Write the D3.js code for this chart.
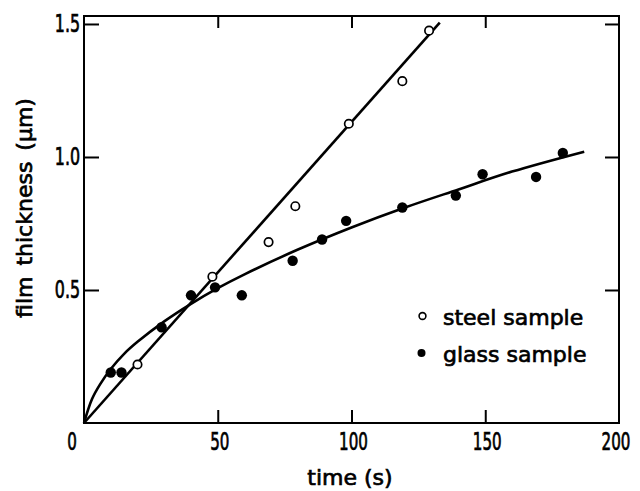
<!DOCTYPE html>
<html><head><meta charset="utf-8">
<script src="https://cdn.jsdelivr.net/npm/d3@7"></script>
<style>
html,body{margin:0;padding:0;background:#fff;}
svg{display:block;}
</style></head>
<body>
<svg id="chart" width="640" height="491"></svg>
<script>
// ---- data ----
const steelTime = [20, 48, 69, 79, 99, 119, 129];
const steelThickness = [0.22, 0.55, 0.68, 0.815, 1.125, 1.285, 1.475];
const glassTime = [10, 14, 29, 40, 49, 59, 78, 89, 98, 119, 139, 149, 169, 179];
const glassThickness = [0.19, 0.19, 0.36, 0.48, 0.51, 0.48, 0.61, 0.69, 0.76, 0.81, 0.855, 0.935, 0.925, 1.015];
// fitted lines as drawn in the picture
const steelFitTime = [0, 133];
const steelFitThickness = [0, 1.505];
const glassFitTime = [0, 3, 6, 10, 15, 20, 30, 40, 50, 60, 80, 100, 120, 140, 160, 187];
const glassFitThickness = [0, 0.09, 0.145, 0.203, 0.26, 0.305, 0.382, 0.448, 0.507, 0.559, 0.652, 0.735, 0.81, 0.878, 0.945, 1.02];
const xTicks = [50, 100, 150, 200];
const yTicks = [0.5, 1.0, 1.5];
const xLabel = "time (s)";
const yLabel = "film thickness (\u03bcm)";
const legendLabels = ["steel sample", "glass sample"];

(function () {
const svg = d3.select("#chart");
const pL = 84, pR = 619, pT = 16, pB = 423;
const x = d3.scaleLinear().domain([0, 200]).range([pL, pR]);
const y = d3.scaleLinear().domain([0, 1.53]).range([pB, pT]);

const numFont = "'DejaVu Sans Condensed','DejaVu Sans',sans-serif";
const txtFont = "'DejaVu Sans','Noto Sans',sans-serif";
const digitW = 9.6;
const heavy = sel => sel.attr("stroke", "#000").attr("stroke-width", 0.7).attr("fill", "#000");

// frame
svg.append("rect").attr("x", pL).attr("y", pT)
  .attr("width", pR - pL).attr("height", pB - pT)
  .attr("fill", "none").attr("stroke", "#000").attr("stroke-width", 2);

// axes with inward ticks
const inner = xTicks.filter(d => d < 200);
svg.append("g").attr("transform", `translate(0,${pB})`)
  .call(d3.axisBottom(x).tickValues(inner).tickSize(-13).tickFormat(""))
  .call(g => g.select(".domain").remove())
  .call(g => g.selectAll("line").attr("stroke-width", 2));
svg.append("g").attr("transform", `translate(0,${pT})`)
  .call(d3.axisTop(x).tickValues(inner).tickSize(-12).tickFormat(""))
  .call(g => g.select(".domain").remove())
  .call(g => g.selectAll("line").attr("stroke-width", 2));
svg.append("g").attr("transform", `translate(${pL},0)`)
  .call(d3.axisLeft(y).tickValues(yTicks).tickSize(-15).tickFormat(""))
  .call(g => g.select(".domain").remove())
  .call(g => g.selectAll("line").attr("stroke-width", 2));
svg.append("g").attr("transform", `translate(${pR},0)`)
  .call(d3.axisRight(y).tickValues(yTicks).tickSize(-14).tickFormat(""))
  .call(g => g.select(".domain").remove())
  .call(g => g.selectAll("line").attr("stroke-width", 2));

// tick labels (narrow digits)
const numW = s => s.replace(".", "").length * digitW + (s.includes(".") ? 6 : 0);
svg.append("g").selectAll("text").data(xTicks).join("text")
  .attr("x", d => Math.min(x(d) + 2, 616)).attr("y", 450)
  .attr("text-anchor", "middle").attr("font-family", numFont).attr("font-size", 24)
  .attr("textLength", d => numW(String(d))).attr("lengthAdjust", "spacingAndGlyphs")
  .call(heavy).text(d => d);
svg.append("text").attr("x", 72).attr("y", 450).attr("text-anchor", "middle")
  .attr("font-family", numFont).attr("font-size", 24)
  .attr("textLength", digitW).attr("lengthAdjust", "spacingAndGlyphs").call(heavy).text("0");
svg.append("g").selectAll("text").data(yTicks).join("text")
  .attr("x", 80).attr("y", d => y(d) + 8.5)
  .attr("text-anchor", "end").attr("font-family", numFont).attr("font-size", 24)
  .attr("textLength", d => numW(d.toFixed(1))).attr("lengthAdjust", "spacingAndGlyphs")
  .call(heavy).text(d => d.toFixed(1));

// axis titles
svg.append("text").attr("x", 350).attr("y", 485).attr("text-anchor", "middle")
  .attr("font-family", txtFont).attr("font-size", 22).call(heavy).text(xLabel);
svg.append("text").attr("transform", "translate(32,208) rotate(-90)")
  .attr("text-anchor", "middle").attr("font-family", txtFont).attr("font-size", 22)
  .attr("word-spacing", 4).call(heavy).text(yLabel);

// fit lines
const line = d3.line().x(d => x(d[0])).y(d => y(d[1]));
svg.append("path").datum(steelFitTime.map((t, i) => [t, steelFitThickness[i]]))
  .attr("d", line).attr("fill", "none").attr("stroke", "#000").attr("stroke-width", 2.6);
svg.append("path").datum(glassFitTime.map((t, i) => [t, glassFitThickness[i]]))
  .attr("d", line.curve(d3.curveCatmullRom)).attr("fill", "none").attr("stroke", "#000").attr("stroke-width", 2.6);

// points
svg.append("g").selectAll("circle").data(glassTime.map((t, i) => [t, glassThickness[i]])).join("circle")
  .attr("cx", d => x(d[0])).attr("cy", d => y(d[1])).attr("r", 5.2).attr("fill", "#000");
svg.append("g").selectAll("circle").data(steelTime.map((t, i) => [t, steelThickness[i]])).join("circle")
  .attr("cx", d => x(d[0])).attr("cy", d => y(d[1])).attr("r", 4.2)
  .attr("fill", "#fff").attr("stroke", "#000").attr("stroke-width", 1.7);

// legend
const lg = svg.append("g");
lg.append("circle").attr("cx", 422.5).attr("cy", 316).attr("r", 3.4)
  .attr("fill", "#fff").attr("stroke", "#000").attr("stroke-width", 1.6);
lg.append("circle").attr("cx", 421.5).attr("cy", 353).attr("r", 4).attr("fill", "#000");
lg.selectAll("text").data(legendLabels).join("text")
  .attr("x", 443).attr("y", (d, i) => 325 + i * 37)
  .attr("font-family", txtFont).attr("font-size", 22).call(heavy).text(d => d);
})();
</script>
</body></html>
